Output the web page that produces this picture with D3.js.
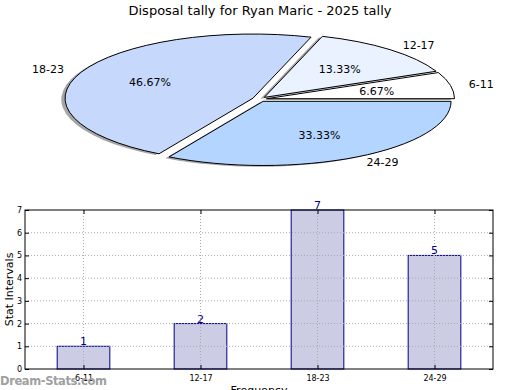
<!DOCTYPE html>
<html>
<head>
<meta charset="utf-8">
<script src="https://cdn.jsdelivr.net/npm/d3@7"></script>
<style>
  body { margin: 0; background: #fff; }
  svg { display: block; font-family: "DejaVu Sans", sans-serif; }
</style>
</head>
<body>
<svg id="chart" width="520" height="390"></svg>
<script>
// data
var title = "Disposal tally for Ryan Maric - 2025 tally";
var categories = ["6-11", "12-17", "18-23", "24-29"];
var counts = [1, 2, 7, 5];
var sliceColors = ["#ffffff", "#eaf2ff", "#c6d9fd", "#b3d5ff"];
var yTicks = [0, 1, 2, 3, 4, 5, 6, 7];

var svg = d3.select("#chart");

svg.append("text")
  .attr("x", 260).attr("y", 15)
  .attr("text-anchor", "middle")
  .style("font-size", "13px")
  .text(title);

// ---------- pie (squashed into an ellipse) ----------
var cx = 259.5, cy = 99.2, rx = 188, ry = 64.2, explode = 0.038;
var total = d3.sum(counts);

var pie = d3.pie().sort(null)
  .startAngle(Math.PI / 2)
  .endAngle(Math.PI / 2 - 2 * Math.PI);
var arc = d3.arc().innerRadius(0).outerRadius(1);
var slices = pie(counts);

function mid(d) { return (d.startAngle + d.endAngle) / 2; }
function offs(d) {
  var a = mid(d);
  return [explode * Math.sin(a), -explode * Math.cos(a)];
}

var pg = svg.append("g");

// shadows first
pg.selectAll(".shadow")
  .data(slices)
  .enter().append("path")
  .attr("class", "shadow")
  .attr("d", arc)
  .attr("transform", function(d) {
    var o = offs(d);
    return "translate(" + cx + "," + cy + ") scale(" + rx + "," + ry + ") translate(" + (o[0] - 0.02) + "," + (o[1] + 0.02) + ")";
  })
  .style("fill", "#4d4d4d")
  .style("opacity", 0.5);

pg.selectAll(".slice")
  .data(slices)
  .enter().append("path")
  .attr("class", "slice")
  .attr("d", arc)
  .attr("transform", function(d) {
    var o = offs(d);
    return "translate(" + cx + "," + cy + ") scale(" + rx + "," + ry + ") translate(" + o[0] + "," + o[1] + ")";
  })
  .attr("vector-effect", "non-scaling-stroke")
  .style("fill", function(d, i) { return sliceColors[i]; })
  .style("stroke", "#000")
  .style("stroke-width", 1);

// category labels
pg.selectAll(".lbl")
  .data(slices)
  .enter().append("text")
  .attr("class", "lbl")
  .attr("x", function(d) { return cx + (explode + 1.1) * rx * Math.sin(mid(d)); })
  .attr("y", function(d) { return cy - (explode + 1.1) * ry * Math.cos(mid(d)); })
  .attr("dy", "0.35em")
  .attr("text-anchor", function(d) { return Math.sin(mid(d)) > 0 ? "start" : "end"; })
  .style("font-size", "11px")
  .text(function(d, i) { return categories[i]; });

// percentages
pg.selectAll(".pct")
  .data(slices)
  .enter().append("text")
  .attr("class", "pct")
  .attr("x", function(d) { return cx + (explode + 0.6) * rx * Math.sin(mid(d)); })
  .attr("y", function(d) { return cy - (explode + 0.6) * ry * Math.cos(mid(d)); })
  .attr("dy", "0.35em")
  .attr("text-anchor", "middle")
  .style("font-size", "11px")
  .text(function(d) { return (d.value / total * 100).toFixed(2) + "%"; });

// ---------- bar chart ----------
var bLeft = 25, bRight = 493, bTop = 210, bBottom = 369;
var x = d3.scaleLinear().domain([-0.5, categories.length - 0.5]).range([bLeft, bRight]);
var y = d3.scaleLinear().domain([0, 7]).range([bBottom, bTop]);
var barW = x(0.45) - x(0);

var bg = svg.append("g");

function grid(g) {
  g.selectAll(".hgrid")
    .data(yTicks.filter(function(t) { return t > 0 && t < 7; }))
    .enter().append("line")
    .attr("x1", bLeft).attr("x2", bRight)
    .attr("y1", function(d) { return y(d); })
    .attr("y2", function(d) { return y(d); })
    .style("stroke", "#aaa").style("stroke-width", 1)
    .style("stroke-dasharray", "1,2");
  g.selectAll(".vgrid")
    .data(categories)
    .enter().append("line")
    .attr("x1", function(d, i) { return x(i); })
    .attr("x2", function(d, i) { return x(i); })
    .attr("y1", bTop).attr("y2", bBottom)
    .style("stroke", "#aaa").style("stroke-width", 1)
    .style("stroke-dasharray", "1,2");
}

bg.selectAll(".bar")
  .data(counts)
  .enter().append("rect")
  .attr("x", function(d, i) { return x(i) - barW / 2; })
  .attr("y", function(d) { return y(d); })
  .attr("width", barW)
  .attr("height", function(d) { return bBottom - y(d); })
  .style("fill", "#ccccE5")
  .style("stroke", "#00008b")
  .style("stroke-width", 1);

// grid drawn over the bars
bg.append("g").call(grid);

bg.selectAll(".val")
  .data(counts)
  .enter().append("text")
  .attr("x", function(d, i) { return x(i); })
  .attr("y", function(d) { return y(d) - 1; })
  .attr("text-anchor", "middle")
  .style("font-size", "11px")
  .style("fill", "#00008b")
  .text(function(d) { return d; });

// axes, ticks pointing inward on all sides
var yAxis = d3.axisLeft(y).tickValues(yTicks).tickFormat(d3.format("d")).tickSize(-4).tickPadding(3);
var yAxisR = d3.axisRight(y).tickValues(yTicks).tickSize(-4).tickFormat("");
var xAxis = d3.axisBottom(x).tickValues(d3.range(categories.length))
  .tickFormat(function(i) { return categories[i]; }).tickSize(-4).tickPadding(6);
var xAxisT = d3.axisTop(x).tickValues(d3.range(categories.length)).tickSize(-4).tickFormat("");

function styleAxis(g) {
  g.select(".domain").remove();
  g.selectAll("line").style("stroke", "#000");
  g.selectAll("text").style("font-size", "8px").style("font-family", "DejaVu Sans, sans-serif");
}
bg.append("g").attr("transform", "translate(" + bLeft + ",0)").call(yAxis).call(styleAxis);
bg.append("g").attr("transform", "translate(" + bRight + ",0)").call(yAxisR).call(styleAxis);
bg.append("g").attr("transform", "translate(0," + bBottom + ")").call(xAxis).call(styleAxis);
bg.append("g").attr("transform", "translate(0," + bTop + ")").call(xAxisT).call(styleAxis);

bg.append("rect")
  .attr("x", bLeft).attr("y", bTop)
  .attr("width", bRight - bLeft).attr("height", bBottom - bTop)
  .style("fill", "none").style("stroke", "#000").style("stroke-width", 1);

svg.append("text")
  .attr("transform", "translate(13," + (bTop + bBottom) / 2 + ") rotate(-90)")
  .attr("text-anchor", "middle")
  .style("font-size", "11px")
  .text("Stat Intervals");

svg.append("text")
  .attr("x", (bLeft + bRight) / 2).attr("y", 394)
  .attr("text-anchor", "middle")
  .style("font-size", "11px")
  .text("Frequency");

svg.append("text")
  .attr("x", 0).attr("y", 385)
  .style("font-size", "11.5px")
  .style("font-weight", "bold")
  .style("fill", "#a0a0a0")
  .style("letter-spacing", "-0.4px")
  .text("Dream-Stats.com");
</script>
</body>
</html>
